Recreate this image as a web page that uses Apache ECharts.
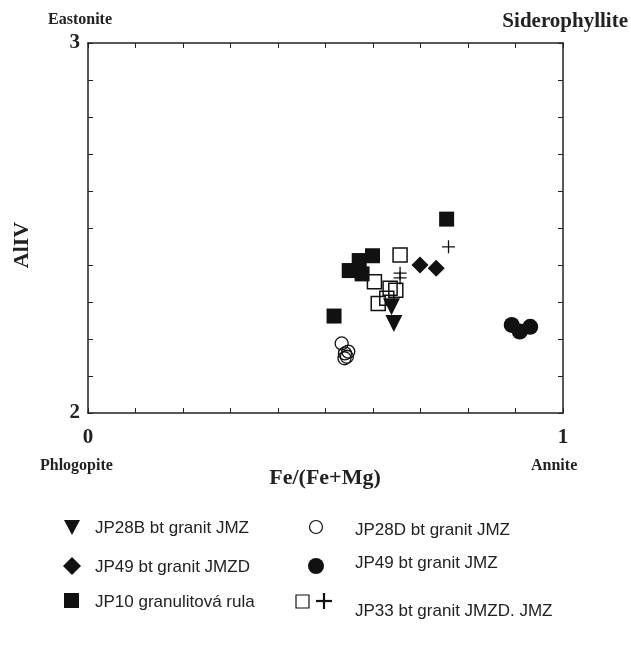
<!DOCTYPE html>
<html><head><meta charset="utf-8">
<script src="https://cdn.jsdelivr.net/npm/echarts@6/dist/echarts.min.js"></script>
<style>html,body{margin:0;padding:0;background:#fff}#c{width:631px;height:653px}</style>
</head><body><div id="c"></div>
<script>
// Data: [Fe/(Fe+Mg), AlIV]
const jp28b = [[0.639,2.287],[0.644,2.242]];
const jp28d = [[0.534,2.188],[0.541,2.161],[0.548,2.166],[0.545,2.152],[0.540,2.148]];
const jp49d = [[0.699,2.400],[0.733,2.391]];
const jp49 = [[0.892,2.238],[0.909,2.220],[0.931,2.233]];
const jp10 = [[0.755,2.524],[0.599,2.425],[0.571,2.412],[0.550,2.385],[0.577,2.376],[0.518,2.262]];
const jp33sq = [[0.657,2.427],[0.603,2.355],[0.636,2.337],[0.648,2.332],[0.611,2.296],[0.629,2.310]];
const jp33plus = [[0.759,2.449],[0.657,2.378],[0.657,2.365]];
const xTickLabels = ['0','1'];
const yTickLabels = ['2','3'];
const seriesNames = ['JP28B bt granit JMZ','JP28D bt granit JMZ','JP49 bt granit JMZD','JP49 bt granit JMZ','JP10 granulitová rula','JP33 bt granit JMZD. JMZ'];

const chart = echarts.init(document.getElementById('c'));
const serif = 'Liberation Serif';
const plusPath = 'path://M0,5L10,5M5,0L5,10';
const axisCommon = {
  min: 0, max: 1, interval: 0.1,
  axisLine: {show: true, onZero: false, lineStyle: {color: '#222', width: 1.5}},
  axisTick: {show: true, inside: true, length: 5, lineStyle: {color: '#222', width: 1}},
  splitLine: {show: false}
};
chart.setOption({
  animation: false,
  backgroundColor: '#fff',
  grid: {left: 88, right: 68, top: 43, bottom: 240},
  xAxis: [
    Object.assign({}, axisCommon, {type: 'value', position: 'bottom',
      axisLabel: {show: true, fontFamily: serif, fontWeight: 'bold', fontSize: 21, color: '#222', margin: 14,
        formatter: v => (Math.abs(v) < 1e-9 ? xTickLabels[0] : (Math.abs(v-1) < 1e-9 ? xTickLabels[1] : ''))}}),
    Object.assign({}, axisCommon, {type: 'value', position: 'top', axisLabel: {show: false}})
  ],
  yAxis: [
    Object.assign({}, axisCommon, {type: 'value', min: 2, max: 3, interval: 0.1, position: 'left',
      axisLabel: {show: true, fontFamily: serif, fontWeight: 'bold', fontSize: 21, color: '#222', margin: 8,
        formatter: v => (Math.abs(v-2) < 1e-9 ? yTickLabels[0] : (Math.abs(v-3) < 1e-9 ? yTickLabels[1] : ''))}}),
    Object.assign({}, axisCommon, {type: 'value', min: 2, max: 3, interval: 0.1, position: 'right', axisLabel: {show: false}})
  ],
  series: [
    {name: seriesNames[0], type: 'scatter', data: jp28b, symbol: 'triangle', symbolRotate: 180, symbolSize: 17,
      itemStyle: {color: '#111', opacity: 1}},
    {name: seriesNames[1], type: 'scatter', data: jp28d, symbol: 'circle', symbolSize: 13,
      itemStyle: {color: 'rgba(255,255,255,0)', borderColor: '#111', borderWidth: 1.3, opacity: 1}},
    {name: seriesNames[2], type: 'scatter', data: jp49d, symbol: 'diamond', symbolSize: 17,
      itemStyle: {color: '#111', opacity: 1}},
    {name: seriesNames[3], type: 'scatter', data: jp49, symbol: 'circle', symbolSize: 16,
      itemStyle: {color: '#111', opacity: 1}},
    {name: seriesNames[4], type: 'scatter', data: jp10, symbol: 'rect', symbolSize: 15,
      itemStyle: {color: '#111', opacity: 1}},
    {name: seriesNames[5], type: 'scatter', data: jp33sq, symbol: 'rect', symbolSize: 14,
      itemStyle: {color: 'rgba(255,255,255,0)', borderColor: '#111', borderWidth: 1.5, opacity: 1}},
    {name: seriesNames[5] + ' +', type: 'scatter', data: jp33plus, symbol: plusPath, symbolSize: 13,
      itemStyle: {color: 'none', borderColor: '#111', borderWidth: 1.3, opacity: 1}}
  ],
  graphic: [
    {type: 'text', left: 48, top: 12, style: {text: 'Eastonite', font: 'bold 16px "Liberation Serif"', fill: '#222'}},
    {type: 'text', right: 3, top: 11, style: {text: 'Siderophyllite', font: 'bold 21px "Liberation Serif"', fill: '#222'}},
    {type: 'text', left: 40, top: 458, style: {text: 'Phlogopite', font: 'bold 16px "Liberation Serif"', fill: '#222'}},
    {type: 'text', left: 531, top: 458, style: {text: 'Annite', font: 'bold 16px "Liberation Serif"', fill: '#222'}},
    {type: 'text', x: 325, y: 478, style: {text: 'Fe/(Fe+Mg)', font: 'bold 22px "Liberation Serif"', fill: '#222', align: 'center', verticalAlign: 'middle'}},
    {type: 'text', x: 22, y: 245, rotation: Math.PI/2, style: {text: 'AlIV', font: 'bold 22px "Liberation Serif"', fill: '#222', align: 'center', verticalAlign: 'middle'}},
    // legend icons
    {type: 'polygon', shape: {points: [[64,520],[80,520],[72,535]]}, style: {fill: '#111'}},
    {type: 'polygon', shape: {points: [[72,557],[81,566],[72,575],[63,566]]}, style: {fill: '#111'}},
    {type: 'rect', shape: {x: 64, y: 593, width: 15, height: 15}, style: {fill: '#111'}},
    {type: 'circle', shape: {cx: 316, cy: 527, r: 6.5}, style: {fill: '#fff', stroke: '#111', lineWidth: 1.2}},
    {type: 'circle', shape: {cx: 316, cy: 566, r: 8}, style: {fill: '#111'}},
    {type: 'rect', shape: {x: 296, y: 595, width: 13, height: 13}, style: {fill: '#fff', stroke: '#111', lineWidth: 1.2}},
    {type: 'line', shape: {x1: 316, y1: 601, x2: 332, y2: 601}, style: {stroke: '#111', lineWidth: 2.2}},
    {type: 'line', shape: {x1: 324, y1: 593, x2: 324, y2: 609}, style: {stroke: '#111', lineWidth: 2.2}},
    // legend texts
    {type: 'text', x: 95, y: 528, style: {text: seriesNames[0], font: '17px "Liberation Sans"', fill: '#222', verticalAlign: 'middle'}},
    {type: 'text', x: 95, y: 567, style: {text: seriesNames[2], font: '17px "Liberation Sans"', fill: '#222', verticalAlign: 'middle'}},
    {type: 'text', x: 95, y: 602, style: {text: seriesNames[4], font: '17px "Liberation Sans"', fill: '#222', verticalAlign: 'middle'}},
    {type: 'text', x: 355, y: 530, style: {text: seriesNames[1], font: '17px "Liberation Sans"', fill: '#222', verticalAlign: 'middle'}},
    {type: 'text', x: 355, y: 563, style: {text: seriesNames[3], font: '17px "Liberation Sans"', fill: '#222', verticalAlign: 'middle'}},
    {type: 'text', x: 355, y: 611, style: {text: seriesNames[5], font: '17px "Liberation Sans"', fill: '#222', verticalAlign: 'middle'}}
  ]
});
</script></body></html>
